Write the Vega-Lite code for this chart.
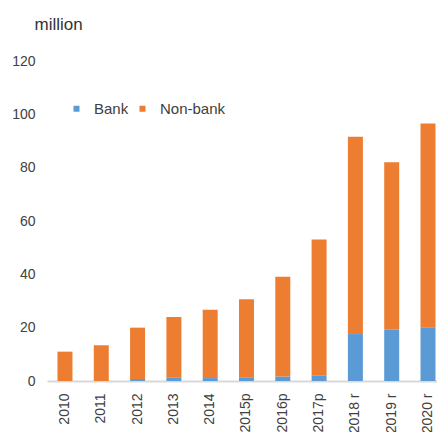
{
  "$schema": "https://vega.github.io/schema/vega-lite/v6.json",
  "autosize": "none",
  "width": 390,
  "height": 320,
  "padding": {"left": 47, "top": 61, "right": 0, "bottom": 51},
  "background": "white",
  "config": {
    "view": {"stroke": null},
    "font": "Liberation Sans"
  },
  "data": {
    "values": [
      {"year": "2010", "type": "Bank", "value": 0},
      {"year": "2010", "type": "Non-bank", "value": 11.0},
      {"year": "2011", "type": "Bank", "value": 0},
      {"year": "2011", "type": "Non-bank", "value": 13.4},
      {"year": "2012", "type": "Bank", "value": 0.75},
      {"year": "2012", "type": "Non-bank", "value": 19.25},
      {"year": "2013", "type": "Bank", "value": 1.4},
      {"year": "2013", "type": "Non-bank", "value": 22.6},
      {"year": "2014", "type": "Bank", "value": 1.1},
      {"year": "2014", "type": "Non-bank", "value": 25.6},
      {"year": "2015p", "type": "Bank", "value": 1.4},
      {"year": "2015p", "type": "Non-bank", "value": 29.3},
      {"year": "2016p", "type": "Bank", "value": 1.7},
      {"year": "2016p", "type": "Non-bank", "value": 37.4},
      {"year": "2017p", "type": "Bank", "value": 2.1},
      {"year": "2017p", "type": "Non-bank", "value": 51.0},
      {"year": "2018 r", "type": "Bank", "value": 17.6},
      {"year": "2018 r", "type": "Non-bank", "value": 74.0},
      {"year": "2019 r", "type": "Bank", "value": 19.2},
      {"year": "2019 r", "type": "Non-bank", "value": 62.8},
      {"year": "2020 r", "type": "Bank", "value": 20.0},
      {"year": "2020 r", "type": "Non-bank", "value": 76.6}
    ]
  },
  "mark": {"type": "bar"},
  "encoding": {
    "x": {
      "field": "year",
      "type": "nominal",
      "sort": null,
      "scale": {"paddingInner": 0.587, "paddingOuter": 0.165, "align": 0.875},
      "axis": {
        "title": null,
        "labelAngle": 270,
        "labelFontSize": 14,
        "labelColor": "#404040",
        "labelPadding": 12,
        "ticks": false,
        "domainColor": "#D9D9D9",
        "domainWidth": 2
      }
    },
    "y": {
      "field": "value",
      "type": "quantitative",
      "stack": "zero",
      "scale": {"domain": [0, 120], "nice": false},
      "axis": {
        "values": [0, 20, 40, 60, 80, 100, 120],
        "grid": false,
        "ticks": false,
        "domain": false,
        "labelFontSize": 14,
        "labelColor": "#404040",
        "labelPadding": 12,
        "title": "million",
        "titleAngle": 0,
        "titleAlign": "left",
        "titleBaseline": "alphabetic",
        "titleX": -13,
        "titleY": -32,
        "titleFontSize": 17,
        "titleFontWeight": "normal",
        "titleColor": "#333333"
      }
    },
    "color": {
      "field": "type",
      "type": "nominal",
      "scale": {"domain": ["Bank", "Non-bank"], "range": ["#5B9BD5", "#ED7D31"]},
      "legend": {
        "title": null,
        "orient": "none",
        "direction": "horizontal",
        "legendX": 22,
        "legendY": 40,
        "symbolType": "square",
        "symbolSize": 36,
        "symbolStrokeWidth": 0,
        "labelFontSize": 15,
        "labelColor": "#404040",
        "labelOffset": 10,
        "columnPadding": 6
      }
    },
    "order": {"field": "type", "sort": "ascending"}
  }
}
